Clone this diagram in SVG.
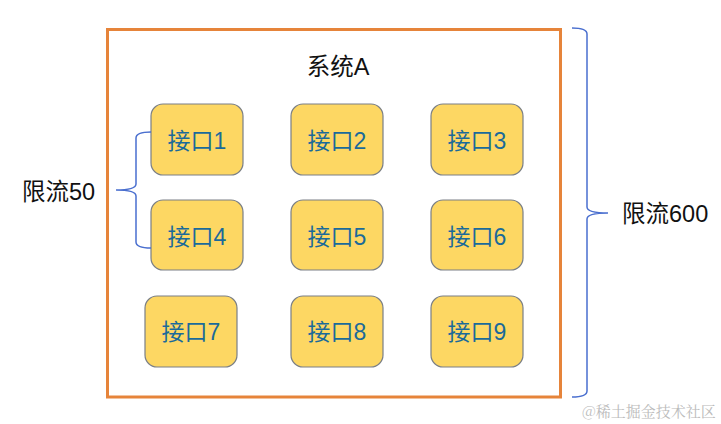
<svg xmlns="http://www.w3.org/2000/svg" width="721" height="424" viewBox="0 0 721 424">
<style>
.node rect{fill:#FDD763;stroke:#7a7f86;stroke-width:1.2}
.node text{font-family:"Liberation Sans","Noto Sans CJK SC",sans-serif;font-size:23px;fill:#1a6a9a;text-anchor:middle;dominant-baseline:central}
.lbl{font-family:"Liberation Sans","Noto Sans CJK SC",sans-serif;font-size:23.5px;fill:#111;dominant-baseline:central}
.brace{fill:none;stroke:#4a6fcf;stroke-width:1.5}
</style>
<rect x="0" y="0" width="721" height="424" fill="#fff"/>
<g id="systemA">
<rect x="107.5" y="29.5" width="453" height="367.5" fill="none" stroke="#E6843A" stroke-width="3"/>
<text class="lbl" x="338" y="67" text-anchor="middle" font-size="26">系统A</text>
</g>
<g id="n1" class="node"><rect x="151" y="104" width="92" height="71" rx="12"/><text x="197" y="141">接口1</text></g>
<g id="n2" class="node"><rect x="291" y="104" width="92" height="71" rx="12"/><text x="337" y="141">接口2</text></g>
<g id="n3" class="node"><rect x="431" y="104" width="92" height="71" rx="12"/><text x="477" y="141">接口3</text></g>
<g id="n4" class="node"><rect x="151" y="200" width="92" height="70" rx="12"/><text x="197" y="237">接口4</text></g>
<g id="n5" class="node"><rect x="291" y="200" width="92" height="70" rx="12"/><text x="337" y="237">接口5</text></g>
<g id="n6" class="node"><rect x="431" y="200" width="92" height="70" rx="12"/><text x="477" y="237">接口6</text></g>
<g id="n7" class="node"><rect x="145" y="296" width="92" height="71" rx="12"/><text x="191" y="332">接口7</text></g>
<g id="n8" class="node"><rect x="291" y="296" width="92" height="71" rx="12"/><text x="337" y="332">接口8</text></g>
<g id="n9" class="node"><rect x="431" y="296" width="92" height="71" rx="12"/><text x="477" y="332">接口9</text></g>
<g id="connectors">
<path class="brace" d="M151,132 Q136,132 136,138 L136,184 Q136,190 116,190 Q136,190 136,196 L136,242 Q136,248 151,248"/>
<path class="brace" d="M572,28 Q587,28 587,34 L587,207 Q587,213 608,213 Q587,213 587,219 L587,391 Q587,397 572,397"/>
</g>
<g id="labels">
<text class="lbl" x="22" y="192">限流50</text>
<text class="lbl" x="622" y="214">限流600</text>
<text x="582" y="410" font-family="'Noto Serif CJK SC','Noto Sans CJK SC',serif" font-size="15" fill="#bbbbbb" dominant-baseline="central">@稀土掘金技术社区</text>
</g>
</svg>
